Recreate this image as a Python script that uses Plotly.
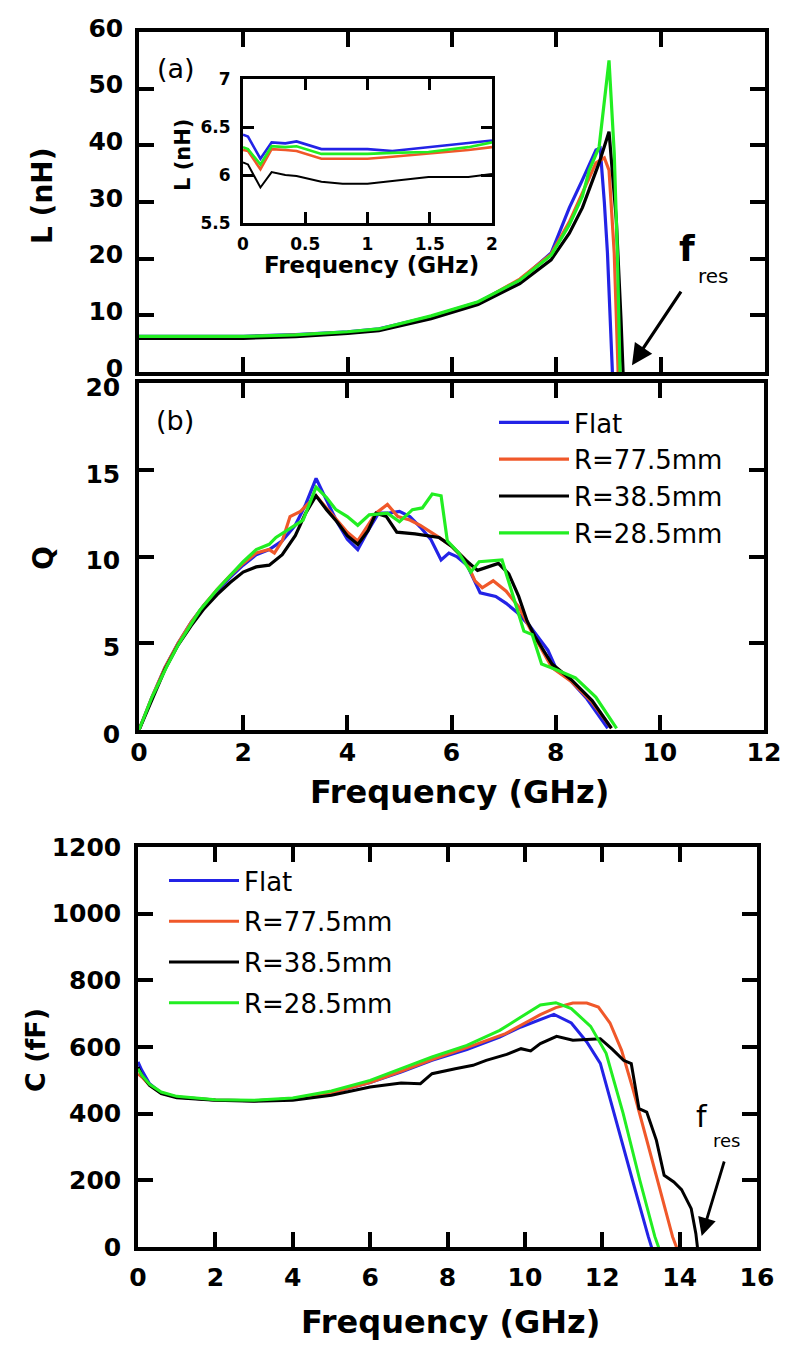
import plotly.graph_objects as go

W, H = 793, 1372

series_names = ["Flat", "R=77.5mm", "R=38.5mm", "R=28.5mm"]
colors = ["#2323e6", "#f0582a", "#000000", "#22ee22"]

# ---------- Panel (a): L (nH) vs frequency ----------
l_f_flat = [0, 1, 2, 3, 4, 4.6, 5.6, 6.5, 7.3, 7.9, 8.25, 8.5, 8.76, 8.84, 8.92, 8.98, 9.03, 9.07, 9.12]
l_flat = [6.3, 6.25, 6.3, 6.6, 7.1, 7.6, 9.8, 12.3, 16.2, 21.0, 29.0, 33.9, 39.2, 39.5, 30.0, 21.0, 10.0, 0.3, -10]
l_f_r775 = [0, 1, 2, 3, 4, 4.6, 5.6, 6.5, 7.3, 7.9, 8.25, 8.5, 8.76, 8.92, 9.01, 9.11, 9.17, 9.22]
l_r775 = [6.2, 6.15, 6.2, 6.5, 7.0, 7.5, 9.7, 12.2, 16.4, 20.8, 26.5, 31.6, 36.9, 37.8, 35.6, 21.0, 0.5, -10]
l_f_r385 = [0, 1, 2, 3, 4, 4.6, 5.6, 6.5, 7.3, 7.9, 8.25, 8.5, 8.82, 9.01, 9.15, 9.24, 9.27, 9.3]
l_r385 = [5.95, 5.9, 5.95, 6.25, 6.8, 7.3, 9.4, 11.9, 15.6, 19.8, 24.5, 29.0, 36.9, 42.4, 26.8, 9.2, 0.5, -5]
l_f_r285 = [0, 1, 2, 3, 4, 4.6, 5.6, 6.5, 7.3, 7.9, 8.25, 8.5, 8.63, 8.82, 9.01, 9.11, 9.17, 9.22, 9.25]
l_r285 = [6.27, 6.22, 6.27, 6.55, 7.1, 7.6, 9.9, 12.4, 16.2, 20.6, 26.0, 31.0, 35.6, 39.7, 55.0, 38.6, 21.0, 0.5, -8]

# ---------- Inset: L (nH), 0-2 GHz ----------
i_f = [0.0, 0.04, 0.14, 0.23, 0.34, 0.43, 0.63, 0.8, 1.0, 1.2, 1.49, 1.81, 2.0]
i_flat = [6.42, 6.40, 6.17, 6.34, 6.33, 6.35, 6.27, 6.27, 6.27, 6.25, 6.29, 6.34, 6.36]
i_r775 = [6.26, 6.25, 6.06, 6.27, 6.26, 6.25, 6.17, 6.17, 6.17, 6.19, 6.22, 6.26, 6.29]
i_r385 = [6.13, 6.11, 5.87, 6.03, 6.0, 5.99, 5.93, 5.91, 5.91, 5.94, 5.98, 5.98, 6.01]
i_r285 = [6.29, 6.27, 6.11, 6.30, 6.29, 6.30, 6.22, 6.22, 6.22, 6.23, 6.24, 6.29, 6.34]

# ---------- Panel (b): Q vs frequency ----------
q_f_flat = [0, 0.25, 0.5, 0.75, 1.0, 1.25, 1.5, 1.75, 2.0, 2.25, 2.5, 2.75, 3.0, 3.2, 3.4, 3.6, 3.8, 4.0, 4.2,
            4.4, 4.6, 4.8, 5.0, 5.2, 5.4, 5.6, 5.8, 5.95, 6.1, 6.3, 6.55, 6.85, 7.05, 7.25, 7.5, 7.7, 7.85, 8.0,
            8.3, 8.6, 9.0]
q_flat = [0, 1.9, 3.6, 5.0, 6.2, 7.2, 8.0, 8.8, 9.5, 10.1, 10.4, 10.9, 11.8, 13.0, 14.5, 13.2, 12.0, 11.0, 10.4,
          11.5, 12.5, 12.5, 12.6, 12.3, 11.7, 11.0, 9.8, 10.2, 10.0, 9.5, 7.9, 7.7, 7.3, 6.8, 6.0, 5.2, 4.6, 3.6,
          2.8, 1.8, 0.1]
q_f_r775 = [0, 0.25, 0.5, 0.75, 1.0, 1.25, 1.5, 1.75, 2.0, 2.25, 2.5, 2.6, 2.75, 2.9, 3.1, 3.4, 3.6, 3.8, 4.0,
            4.2, 4.4, 4.55, 4.77, 4.97, 5.2, 5.4, 5.76, 6.0, 6.27, 6.45, 6.59, 6.8, 7.05, 7.29, 7.55, 7.8, 7.93,
            8.3, 8.7, 9.07]
q_r775 = [0, 1.9, 3.6, 5.0, 6.2, 7.2, 8.1, 8.9, 9.6, 10.2, 10.4, 10.2, 10.9, 12.3, 12.6, 13.5, 12.8, 12.1, 11.4,
          10.9, 11.8, 12.5, 13.0, 12.3, 12.1, 11.8, 11.1, 10.6, 9.8, 8.6, 8.2, 8.6, 8.0, 7.1, 5.6, 4.3, 3.6,
          2.8, 1.6, 0.1]
q_f_r385 = [0, 0.25, 0.5, 0.75, 1.0, 1.25, 1.5, 1.75, 2.0, 2.25, 2.5, 2.75, 3.0, 3.2, 3.4, 3.6, 3.8, 4.0, 4.2,
            4.4, 4.55, 4.75, 4.95, 5.3, 5.76, 6.0, 6.27, 6.5, 6.7, 6.9, 7.1, 7.29, 7.45, 7.6, 7.93, 8.3, 8.7,
            9.07]
q_r385 = [0, 1.8, 3.5, 4.9, 6.0, 7.0, 7.8, 8.5, 9.1, 9.4, 9.5, 10.1, 11.2, 12.5, 13.5, 12.7, 12.0, 11.2, 10.7,
          11.5, 12.5, 12.3, 11.4, 11.3, 11.1, 10.6, 9.8, 9.2, 9.4, 9.6, 9.0, 7.7, 6.3, 5.4, 3.8, 2.9, 1.7,
          0.1]
q_f_r285 = [0, 0.25, 0.54, 0.75, 1.0, 1.17, 1.5, 1.8, 2.0, 2.25, 2.5, 2.63, 2.95, 3.15, 3.4, 3.6, 3.78, 4.0,
            4.2, 4.42, 4.77, 5.0, 5.25, 5.44, 5.63, 5.8, 5.92, 6.14, 6.37, 6.53, 6.97, 7.2, 7.39, 7.55, 7.73,
            7.99, 8.38, 8.77, 9.17]
q_r285 = [0, 1.9, 3.7, 4.9, 6.1, 6.9, 8.1, 9.1, 9.7, 10.4, 10.7, 11.1, 11.7, 12.1, 14.0, 13.4, 12.7, 12.3,
          11.8, 12.4, 12.5, 12.0, 12.7, 12.8, 13.6, 13.5, 10.9, 10.2, 9.1, 9.7, 9.8, 7.6, 5.7, 5.5, 3.8,
          3.5, 3.0, 1.9, 0.1]

# ---------- Panel (c): C (fF) vs frequency ----------
c_f_flat = [0, 0.1, 0.3, 0.6, 1, 1.5, 2, 3, 4, 5, 6, 6.8, 7.6, 8.5, 9.35, 9.9, 10.4, 10.75, 11.2, 11.6, 11.95,
            12.37, 12.78, 13.19, 13.3]
c_flat = [555, 530, 490, 462, 450, 445, 441, 439, 445, 463, 493, 525, 560, 592, 630, 660, 682, 698, 672, 615, 551,
          372, 201, 31, -10]
c_f_r775 = [0, 0.1, 0.3, 0.6, 1, 1.5, 2, 3, 4, 5, 6, 6.8, 7.6, 8.5, 9.5, 10.4, 10.8, 11.24, 11.6, 11.9, 12.2,
            12.5, 12.8, 13.15, 13.5, 13.82, 13.95]
c_r775 = [520, 510, 485, 462, 450, 445, 441, 439, 445, 463, 493, 527, 562, 598, 640, 697, 718, 732, 732, 720, 672,
          590, 471, 321, 171, 30, -10]
c_f_r385 = [0, 0.1, 0.3, 0.6, 1, 1.5, 2, 3, 4, 5, 6, 6.8, 7.3, 7.45, 7.6, 8.2, 8.66, 9.0, 9.53, 9.9, 10.15,
            10.4, 10.82, 11.24, 11.7, 11.95, 12.27, 12.55, 12.75, 12.95, 13.15, 13.4, 13.6, 13.85, 14.05, 14.3,
            14.42, 14.47]
c_r385 = [540, 515, 485, 460, 448, 443, 440, 437, 440, 455, 480, 492, 490, 505, 520, 535, 545, 560, 578, 595, 588,
          610, 632, 620, 622, 625, 592, 560, 550, 415, 405, 320, 215, 195, 172, 115, 40, -10]
c_f_r285 = [0, 0.1, 0.3, 0.6, 1, 1.5, 2, 3, 4, 5, 6, 6.8, 7.6, 8.5, 9.35, 9.9, 10.4, 10.8, 11.2, 11.7, 12.1,
            12.54, 12.97, 13.36, 13.5]
c_r285 = [535, 515, 488, 465, 452, 446, 442, 440, 447, 468, 500, 535, 570, 605, 650, 690, 726, 733, 715, 662, 581,
          401, 201, 31, -15]

L_F = [l_f_flat, l_f_r775, l_f_r385, l_f_r285]
L_V = [l_flat, l_r775, l_r385, l_r285]
I_V = [i_flat, i_r775, i_r385, i_r285]
Q_F = [q_f_flat, q_f_r775, q_f_r385, q_f_r285]
Q_V = [q_flat, q_r775, q_r385, q_r285]
C_F = [c_f_flat, c_f_r775, c_f_r385, c_f_r285]
C_V = [c_flat, c_r775, c_r385, c_r285]

fig = go.Figure()

for k in range(4):
    fig.add_trace(go.Scatter(x=L_F[k], y=L_V[k], mode="lines", xaxis="x", yaxis="y",
                             line=dict(color=colors[k], width=3.2), showlegend=False, name=series_names[k]))
for k in range(4):
    fig.add_trace(go.Scatter(x=i_f, y=I_V[k], mode="lines", xaxis="x4", yaxis="y4",
                             line=dict(color=colors[k], width=2.6 if k != 2 else 2.0), showlegend=False,
                             name=series_names[k]))
for k in range(4):
    fig.add_trace(go.Scatter(x=Q_F[k], y=Q_V[k], mode="lines", xaxis="x2", yaxis="y2",
                             line=dict(color=colors[k], width=3.2), name=series_names[k],
                             legend="legend", legendgroup="b%d" % k))
for k in range(4):
    fig.add_trace(go.Scatter(x=C_F[k], y=C_V[k], mode="lines", xaxis="x3", yaxis="y3",
                             line=dict(color=colors[k], width=3.0), name=series_names[k],
                             legend="legend2", legendgroup="c%d" % k))

def px_x(p):
    return p / W

def px_y(p):
    return 1 - p / H

tickfont = dict(family="DejaVu Sans", size=25, color="black", weight="bold")
inset_tickfont = dict(family="DejaVu Sans", size=17, color="black", weight="bold")

def axis(domain, rng, dtick, showlabels=True, font=tickfont, ticklen=15, lw=3.5, standoff=6, anchor=None, shift=0):
    d = dict(domain=domain, range=rng, dtick=dtick, tick0=rng[0], showgrid=False, zeroline=False,
             showline=True, linecolor="black", linewidth=lw, mirror="ticks", ticks="inside",
             ticklen=ticklen, tickwidth=lw, tickcolor="black", tickfont=font, automargin=False,
             showticklabels=showlabels, ticklabelstandoff=standoff, ticklabelshift=shift)
    if anchor:
        d["anchor"] = anchor
    return d

layout = dict(
    width=W, height=H, margin=dict(l=0, r=0, t=0, b=0, autoexpand=False),
    paper_bgcolor="white", plot_bgcolor="white",
    xaxis=axis([px_x(139), px_x(765)], [0, 12], 2, showlabels=False, anchor="y"),
    yaxis=axis([px_y(372), px_y(32)], [0, 60], 10, anchor="x", standoff=7, shift=-4),
    xaxis2=axis([px_x(139), px_x(764)], [0, 12], 2, anchor="y2", standoff=-3),
    yaxis2=axis([px_y(730), px_y(383)], [0, 20], 5, anchor="x2", standoff=10, shift=4),
    xaxis3=axis([px_x(138), px_x(757)], [0, 16], 2, anchor="y3", standoff=5),
    yaxis3=axis([px_y(1247), px_y(847)], [0, 1200], 200, anchor="x3", standoff=8),
    xaxis4=axis([px_x(243), px_x(492)], [0, 2], 0.5, font=inset_tickfont, ticklen=11, lw=3, anchor="y4", standoff=4),
    yaxis4=axis([px_y(223), px_y(79)], [5.5, 7], 0.5, font=inset_tickfont, ticklen=11, lw=3, anchor="x4", standoff=6),
    legend=dict(x=px_x(494), y=px_y(399), xanchor="left", yanchor="top", bgcolor="rgba(0,0,0,0)",
                font=dict(family="DejaVu Sans", size=26, color="black"), traceorder="grouped",
                tracegroupgap=0, itemwidth=70),
    legend2=dict(x=px_x(164), y=px_y(857), xanchor="left", yanchor="top", bgcolor="rgba(0,0,0,0)",
                 font=dict(family="DejaVu Sans", size=26, color="black"), traceorder="grouped",
                 tracegroupgap=4, itemwidth=70),
)
fig.update_layout(**layout)

ann = []
def text(x, y, s, size, bold=False, angle=0, family="DejaVu Sans"):
    ann.append(dict(x=px_x(x), y=px_y(y), xref="paper", yref="paper", text=s, showarrow=False,
                    xanchor="center", yanchor="middle", textangle=angle,
                    font=dict(family=family, size=size, color="black", weight="bold" if bold else "normal")))

text(43, 196, "L (nH)", 28, bold=True, angle=-90)
text(43, 558, "Q", 28, bold=True, angle=-90)
text(35, 1050, "C (fF)", 27, bold=True, angle=-90)
text(459, 792, "Frequency (GHz)", 32, bold=True)
text(450, 1322, "Frequency (GHz)", 32, bold=True)
text(183, 155, "L (nH)", 21, bold=True, angle=-90)
text(371, 265, "Frequency (GHz)", 23, bold=True)
text(176, 68, "(a)", 27)
text(175, 421, "(b)", 27)
text(687, 248, "f", 36, bold=True)
text(713, 276, "res", 20)
text(702, 1116, "f", 30)
text(726, 1140, "res", 18)

# arrows
ann.append(dict(x=9.45, y=1.2, xref="x", yref="y", ax=50, ay=-75, text="", showarrow=True,
                arrowhead=2, arrowsize=1.3, arrowwidth=3.2, arrowcolor="black"))
ann.append(dict(x=14.57, y=33, xref="x3", yref="y3", ax=23, ay=-76, text="", showarrow=True,
                arrowhead=2, arrowsize=1.3, arrowwidth=2.8, arrowcolor="black"))

fig.update_layout(annotations=ann)
fig.write_html("out.html", config={"displayModeBar": False},
               post_script="document.body.style.margin='0px';document.body.style.padding='0px';")
